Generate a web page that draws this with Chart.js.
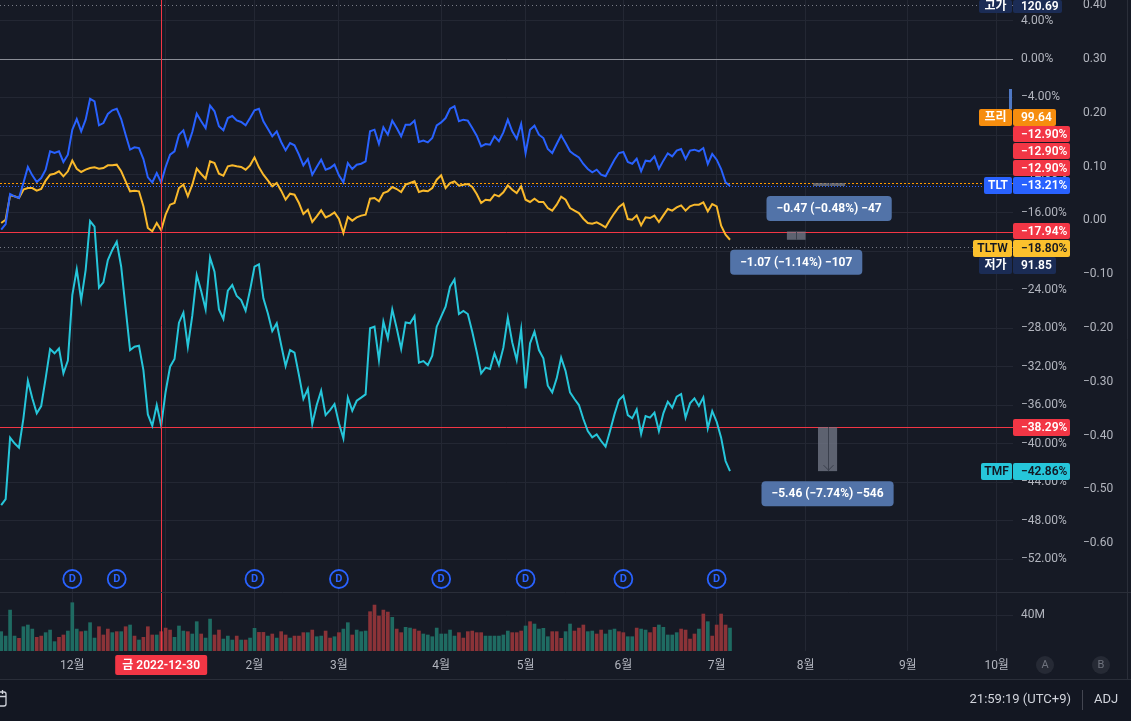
<!DOCTYPE html>
<html>
<head>
<meta charset="utf-8">
<script src="https://cdn.jsdelivr.net/npm/chart.js@4.4.1/dist/chart.umd.min.js"></script>
<style>
  html, body { margin: 0; padding: 0; background: #161a25; }
  #wrap { width: 1131px; height: 721px; position: relative; }
</style>
</head>
<body>
<div id="wrap"><canvas id="chart"></canvas></div>
<script>
// daily % change, one value per trading day (2022-11-08 .. 2023-07-07)
const tlt = [
  -17.75,-17.16,-14.04,-14.28,-14.46,-12.90,-11.23,-12.10,-12.79,-12.38,
  -11.51,-9.60,-9.78,-9.60,-10.71,-9.95,-7.35,-6.24,-7.52,-6.31,
  -4.13,-4.40,-6.90,-6.66,-5.72,-5.34,-5.17,-6.24,-7.87,-9.43,
  -9.19,-9.26,-10.40,-12.31,-12.83,-11.86,-12.83,-11.23,-9.95,-9.60,
  -7.87,-7.42,-8.98,-7.59,-5.69,-6.48,-7.18,-4.85,-5.44,-7.00,
  -7.42,-6.14,-5.93,-6.38,-6.55,-6.90,-6.14,-5.34,-5.17,-6.48,
  -7.25,-8.04,-7.52,-8.63,-9.50,-8.74,-8.98,-9.95,-11.06,-10.40,
  -12.03,-11.23,-10.47,-11.51,-11.34,-10.99,-12.10,-12.83,-10.82,-11.44,
  -10.99,-10.89,-10.64,-7.52,-7.35,-8.84,-7.11,-7.87,-6.41,-7.18,
  -8.04,-6.83,-6.83,-6.41,-8.63,-8.49,-8.67,-8.22,-6.90,-6.59,
  -6.14,-5.17,-4.92,-6.48,-6.31,-6.41,-7.18,-7.97,-9.08,-8.84,
  -8.91,-8.04,-8.56,-7.63,-6.31,-7.52,-8.29,-6.76,-9.78,-7.35,
  -6.93,-7.87,-8.22,-9.36,-9.78,-8.84,-7.94,-8.74,-9.60,-9.95,
  -10.23,-10.92,-11.44,-11.79,-11.51,-12.03,-12.20,-11.34,-10.47,-9.78,
  -9.67,-10.71,-10.89,-10.37,-11.68,-10.57,-10.64,-10.12,-11.41,-10.57,
  -9.81,-10.12,-9.53,-9.36,-10.40,-9.53,-9.43,-9.60,-9.26,-10.92,
  -9.88,-10.47,-11.44,-12.83,-13.21
];
const tltw = [
  -17.06,-16.71,-14.18,-14.28,-14.46,-13.59,-13.42,-13.42,-13.69,-13.52,
  -12.65,-12.03,-11.93,-11.68,-12.20,-11.68,-10.57,-11.41,-11.75,-11.51,
  -11.34,-11.27,-11.41,-11.34,-11.06,-11.06,-10.99,-11.68,-12.72,-13.76,
  -13.69,-13.76,-15.32,-17.58,-17.92,-17.06,-17.82,-16.19,-15.15,-14.98,
  -13.42,-13.07,-14.28,-13.07,-11.41,-11.96,-12.45,-10.64,-10.82,-11.93,
  -12.13,-11.16,-11.06,-11.16,-11.23,-11.51,-11.06,-10.23,-11.27,-12.03,
  -12.62,-13.24,-12.90,-13.69,-14.63,-14.01,-14.11,-14.98,-16.12,-15.67,
  -16.95,-16.36,-15.74,-16.47,-16.26,-15.95,-16.64,-18.10,-16.43,-16.81,
  -16.47,-16.29,-16.19,-14.53,-14.46,-14.80,-13.94,-13.76,-13.31,-13.52,
  -13.83,-13.07,-12.90,-12.72,-13.83,-13.69,-13.76,-13.42,-12.55,-12.10,
  -13.42,-12.90,-12.72,-13.17,-13.07,-13.00,-13.31,-14.04,-14.98,-14.63,
  -14.70,-14.11,-14.28,-13.87,-13.14,-13.59,-13.94,-13.24,-14.63,-14.87,
  -14.53,-14.87,-14.87,-15.50,-15.77,-15.15,-14.32,-14.63,-15.50,-15.77,
  -16.02,-16.61,-17.06,-17.13,-16.99,-17.23,-17.51,-16.71,-16.02,-15.39,
  -15.05,-16.64,-16.71,-16.26,-17.30,-16.47,-16.54,-16.29,-16.95,-16.26,
  -15.60,-15.77,-15.43,-15.22,-15.77,-15.32,-15.15,-15.15,-14.91,-15.84,
  -15.08,-15.32,-17.33,-18.27,-18.80
];
const tmf = [
  -46.39,-45.76,-39.38,-39.97,-40.42,-37.37,-33.46,-35.29,-36.85,-36.09,
  -33.21,-30.16,-30.61,-30.09,-32.69,-31.37,-24.55,-21.88,-25.07,-21.95,
  -16.85,-17.44,-23.78,-23.23,-20.91,-19.86,-19.00,-21.60,-25.93,-30.27,
  -29.92,-29.82,-32.35,-36.96,-38.14,-35.99,-38.14,-34.60,-32.00,-31.20,
  -27.42,-26.38,-29.92,-26.69,-22.47,-24.13,-26.04,-20.66,-22.12,-26.04,
  -27.04,-24.10,-23.51,-24.65,-25.07,-26.18,-24.03,-21.60,-21.36,-24.89,
  -26.45,-28.29,-27.49,-29.75,-31.93,-30.27,-30.54,-32.87,-35.36,-34.32,
  -37.96,-35.99,-34.49,-37.03,-36.51,-35.88,-37.89,-39.45,-35.22,-36.58,
  -35.54,-35.22,-34.88,-28.01,-27.84,-31.31,-27.32,-29.05,-26.04,-28.01,
  -30.16,-27.39,-27.49,-26.73,-31.58,-31.41,-31.83,-30.86,-27.84,-26.80,
  -25.76,-23.68,-22.92,-26.52,-26.21,-26.52,-28.36,-30.44,-32.69,-32.10,
  -32.24,-30.61,-31.83,-30.02,-26.90,-29.47,-31.31,-28.12,-34.25,-29.57,
  -28.36,-30.27,-31.13,-33.98,-34.67,-33.21,-31.06,-32.45,-34.67,-35.36,
  -35.99,-37.44,-38.69,-39.35,-39.04,-39.73,-40.32,-38.69,-36.96,-35.47,
  -35.02,-37.03,-37.37,-36.44,-39.00,-37.13,-37.30,-36.78,-38.69,-36.85,
  -35.64,-36.26,-35.12,-34.84,-37.30,-35.81,-35.29,-36.09,-35.19,-38.41,
  -36.61,-37.72,-39.38,-41.81,-42.86
];
// volume in millions, and bar direction (1 = up / teal, 0 = down / red)
const volume = [
  21.5,16.6,45.5,16.6,14.1,27.0,28.9,24.4,15.2,16.6,
  20.4,23.3,10.4,15.2,17.8,22.2,53.7,24.4,21.5,22.2,
  31.5,14.4,27.0,17.8,24.4,20.4,21.5,21.5,27.0,28.9,
  16.6,12.2,15.2,27.0,17.8,17.8,21.5,25.5,23.3,15.2,
  27.8,22.2,21.5,18.9,32.6,18.9,14.4,35.5,17.8,23.3,
  13.3,16.6,12.2,16.6,12.2,12.2,14.4,25.2,20.7,20.7,
  16.6,18.9,14.4,21.5,17.8,14.4,16.6,16.6,20.4,20.4,
  23.3,15.9,16.6,22.2,14.4,15.9,20.4,24.4,31.5,17.8,
  23.3,21.5,22.2,43.7,51.1,38.9,45.5,43.3,37.4,24.4,
  20.4,26.3,25.5,24.4,22.2,18.9,17.8,15.9,25.5,18.9,
  18.9,23.3,16.6,20.4,14.4,21.5,22.2,20.4,20.4,16.6,
  16.6,16.6,16.6,17.8,22.2,20.4,20.4,22.2,27.8,32.6,
  30.0,24.4,25.2,15.9,21.5,21.5,14.1,21.5,30.0,22.2,
  25.5,28.9,21.5,22.2,18.9,23.3,18.9,23.3,24.4,21.5,
  20.4,15.9,15.9,25.5,24.4,23.3,20.4,26.3,28.9,26.3,
  17.8,17.8,20.4,24.4,23.3,13.3,18.9,24.4,41.1,32.6,
  16.6,28.9,41.1,28.9,25.5
];
const volumeUp = [
  1,1,1,1,0,1,1,1,0,0, 1,1,1,0,0,1,1,1,0,1, 1,1,0,0,0,1,0,1,0,1,
  0,1,0,0,0,1,0,0,0,1, 1,1,0,1,1,0,1,1,0,0, 1,1,1,0,1,0,1,1,0,0,
  1,0,1,0,0,1,0,0,0,1, 0,1,1,0,0,1,0,1,1,0, 1,1,1,0,0,0,0,0,1,0,
  0,1,1,0,0,1,1,1,1,1, 1,1,1,0,0,0,0,0,0,1, 1,1,1,1,1,0,0,0,1,0,
  1,1,1,1,0,0,0,1,1,0, 0,0,1,1,0,0,1,1,1,0, 0,1,1,0,1,1,0,0,1,1,
  1,1,1,0,0,0,0,1,0,1, 0,0,0,0,1
];
// time axis: trading-day index of each month start
const monthTicks  = [16, 37, 57, 76, 99, 118, 140, 161, 181, 204, 224];
const monthLabels = ['12월','1월','2월','3월','4월','5월','6월','7월','8월','9월','10월'];
const dividendDays = [16, 26, 57, 76, 99, 118, 140, 161];
const pctTicks = [4,0,-4,-8,-12,-16,-20,-24,-28,-32,-36,-40,-44,-48,-52];
const rightTicks = [0.4,0.3,0.2,0.1,0,-0.1,-0.2,-0.3,-0.4,-0.5,-0.6];
const volumeTicks = [40];
const crosshairDay = 36;
const crosshairLabel = '금 2022-12-30';

const FONT = "Roboto, 'Noto Sans CJK KR', 'DejaVu Sans', sans-serif";
const minus = s => s.replace('-', '\u2212');
const fmtPct = v => minus(v.toFixed(2)) + '%';

function roundBox(ctx, x, y, w, h, r, fill) {
  ctx.fillStyle = fill;
  ctx.beginPath();
  ctx.roundRect(x, y, w, h, r);
  ctx.fill();
}
function badge(ctx, x, y, w, h, fill, text, color, align) {
  roundBox(ctx, x, y, w, h, 2, fill);
  ctx.fillStyle = color;
  ctx.textBaseline = 'middle';
  ctx.textAlign = align;
  ctx.fillText(text, align === 'center' ? x + w / 2 : x + 8, y + h / 2 + 0.5);
}
function hline(ctx, area, py, color, dash, x0) {
  ctx.save();
  ctx.strokeStyle = color;
  ctx.lineWidth = 1;
  ctx.setLineDash(dash);
  ctx.beginPath();
  ctx.moveTo(x0 || area.left, Math.round(py) + 0.5);
  ctx.lineTo(area.right, Math.round(py) + 0.5);
  ctx.stroke();
  ctx.restore();
}

const overlay = {
  id: 'overlay',
  beforeDraw(chart) {
    const { ctx, width, height } = chart;
    ctx.save();
    ctx.fillStyle = '#161a25';
    ctx.fillRect(0, 0, width, height);
    ctx.fillStyle = '#131722';
    ctx.fillRect(0, 680, width, height - 680);
    ctx.restore();
  },
  beforeDatasetsDraw(chart) {
    const { ctx, chartArea: a, scales: { y } } = chart;
    hline(ctx, a, y.getPixelForValue(5.62), '#787b86', [1, 3], 0);
    hline(ctx, a, y.getPixelForValue(0), '#8a8d96', []);
    hline(ctx, a, y.getPixelForValue(-12.90), '#ff9800', [2, 2]);
    hline(ctx, a, y.getPixelForValue(-13.21), '#2962ff', [1, 2]);
    hline(ctx, a, y.getPixelForValue(-17.94), '#f23645', []);
    hline(ctx, a, y.getPixelForValue(-19.52), '#787b86', [1, 3]);
    hline(ctx, a, y.getPixelForValue(-38.29), '#f23645', []);
  },
  afterDatasetsDraw(chart) {
    const { ctx, chartArea: a, scales: { x, y } } = chart;
    ctx.save();
    // crosshair
    const cx = Math.round(x.getPixelForValue(crosshairDay)) + 0.5;
    ctx.strokeStyle = '#f23645';
    ctx.lineWidth = 1;
    ctx.beginPath();
    ctx.moveTo(cx, a.top);
    ctx.lineTo(cx, a.bottom);
    ctx.stroke();

    // dividend letters
    ctx.font = 'bold 11px ' + FONT;
    ctx.fillStyle = '#2962ff';
    ctx.textAlign = 'center';
    ctx.textBaseline = 'middle';
    chart.getDatasetMeta(3).data.forEach(p => ctx.fillText('D', p.x, p.y + 0.5));

    // measure tool boxes
    const boxes = [
      { d0: 182.7, d1: 189.9, v0: -12.90, v1: -13.21, text: '\u22120.47 (\u22120.48%) \u221247' },
      { d0: 176.8, d1: 181.0, v0: -17.94, v1: -18.80, text: '\u22121.07 (\u22121.14%) \u2212107' },
      { d0: 183.8, d1: 188.1, v0: -38.29, v1: -42.86, text: '\u22125.46 (\u22127.74%) \u2212546', arrow: true }
    ];
    ctx.font = 'bold 12px ' + FONT;
    boxes.forEach(b => {
      const xa = x.getPixelForValue(b.d0), xb = x.getPixelForValue(b.d1);
      const ya = y.getPixelForValue(b.v0), yb = y.getPixelForValue(b.v1);
      ctx.fillStyle = 'rgba(120,126,142,0.72)';
      ctx.fillRect(xa, ya, xb - xa, yb - ya);
      const mx = Math.round((xa + xb) / 2) + 0.5;
      ctx.strokeStyle = '#3b404d';
      ctx.beginPath();
      ctx.moveTo(mx, ya);
      ctx.lineTo(mx, yb);
      if (b.arrow) {
        ctx.moveTo(mx - 5, yb - 6);
        ctx.lineTo(mx, yb - 1);
        ctx.lineTo(mx + 5, yb - 6);
      }
      ctx.stroke();
      const tw = ctx.measureText(b.text).width + 20;
      const top = yb + 10;
      roundBox(ctx, (xa + xb) / 2 - tw / 2, top, tw, 25, 4, '#5273a8');
      ctx.fillStyle = '#ffffff';
      ctx.textAlign = 'center';
      ctx.textBaseline = 'middle';
      ctx.fillText(b.text, (xa + xb) / 2, top + 13);
    });
    ctx.restore();
  },
  afterDraw(chart) {
    const { ctx, width, scales: { x } } = chart;
    ctx.save();
    // pane separator and borders
    ctx.strokeStyle = '#2a2e39';
    ctx.lineWidth = 1;
    ctx.beginPath();
    ctx.moveTo(0, 592.5); ctx.lineTo(width, 592.5);
    ctx.moveTo(0, 679.5); ctx.lineTo(width, 679.5);
    ctx.moveTo(1127.5, 0); ctx.lineTo(1127.5, 679);
    ctx.stroke();

    // price scale badges
    ctx.font = '600 12px ' + FONT;
    const navy = '#1b2c55', red = '#f23645', white = '#ffffff', dark = '#131722';
    badge(ctx, 979, 0, 33, 13, navy, '고가', white, 'center');
    badge(ctx, 1013, 0, 49, 13, navy, '120.69', white, 'left');
    badge(ctx, 979, 109, 33, 17, '#f68d0e', '프리', white, 'center');
    badge(ctx, 1013, 109, 43, 17, '#f68d0e', '99.64', white, 'left');
    badge(ctx, 1013, 126, 57, 16, red, fmtPct(-12.90), white, 'left');
    badge(ctx, 1013, 143, 57, 16, red, fmtPct(-12.90), white, 'left');
    badge(ctx, 1013, 160, 57, 16, red, fmtPct(-12.90), white, 'left');
    badge(ctx, 984, 177, 28, 17, '#2962ff', 'TLT', white, 'center');
    badge(ctx, 1013, 177, 57, 17, '#2962ff', fmtPct(-13.21), white, 'left');
    badge(ctx, 1013, 223, 57, 16, red, fmtPct(-17.94), white, 'left');
    badge(ctx, 973, 240, 39, 17, '#fbc02d', 'TLTW', dark, 'center');
    badge(ctx, 1013, 240, 57, 17, '#fbc02d', fmtPct(-18.80), dark, 'left');
    badge(ctx, 979, 257, 33, 17, navy, '저가', white, 'center');
    badge(ctx, 1013, 257, 43, 17, navy, '91.85', white, 'left');
    badge(ctx, 1013, 419, 57, 17, red, fmtPct(-38.29), white, 'left');
    badge(ctx, 981, 463, 31, 17, '#26c6da', 'TMF', dark, 'center');
    badge(ctx, 1013, 463, 57, 17, '#26c6da', fmtPct(-42.86), dark, 'left');
    ctx.fillStyle = '#4f78c4';
    ctx.fillRect(1009, 89, 3, 20);

    // crosshair date label
    const cx = x.getPixelForValue(crosshairDay);
    roundBox(ctx, cx - 46, 655, 92, 20, 2, red);
    ctx.fillStyle = white;
    ctx.textAlign = 'center';
    ctx.textBaseline = 'middle';
    ctx.fillText(crosshairLabel, cx, 665.5);

    // A / B buttons
    [[1045, 'A'], [1101, 'B']].forEach(([bx, t]) => {
      ctx.fillStyle = '#262a35';
      ctx.beginPath();
      ctx.arc(bx, 665, 9, 0, Math.PI * 2);
      ctx.fill();
      ctx.fillStyle = '#6f737e';
      ctx.font = '11px ' + FONT;
      ctx.fillText(t, bx, 665.5);
    });

    // bottom toolbar
    ctx.font = '13px ' + FONT;
    ctx.fillStyle = '#d1d4dc';
    ctx.textAlign = 'right';
    ctx.fillText('21:59:19 (UTC+9)', 1071, 700);
    ctx.textAlign = 'left';
    ctx.fillText('ADJ', 1094, 700);
    ctx.strokeStyle = '#434651';
    ctx.beginPath();
    ctx.moveTo(1082.5, 690); ctx.lineTo(1082.5, 710);
    ctx.stroke();
    ctx.strokeStyle = '#d1d4dc';
    ctx.lineWidth = 1.3;
    ctx.beginPath();
    ctx.roundRect(-7, 692, 13, 14, 2);
    ctx.moveTo(-7, 696.5); ctx.lineTo(6, 696.5);
    ctx.moveTo(2.5, 690); ctx.lineTo(2.5, 694);
    ctx.stroke();
    ctx.restore();
  }
};

const tickFont = { family: FONT, size: 12 };
const gridColor = '#232733';

new Chart(document.getElementById('chart'), {
  type: 'line',
  data: {
    datasets: [
      { label: 'TLT', data: tlt.map((v, i) => ({ x: i, y: v })), yAxisID: 'y',
        borderColor: '#2962ff', borderWidth: 2, pointRadius: 0, order: 2 },
      { label: 'TLTW', data: tltw.map((v, i) => ({ x: i, y: v })), yAxisID: 'y',
        borderColor: '#f9b92c', borderWidth: 2, pointRadius: 0, order: 3 },
      { label: 'TMF', data: tmf.map((v, i) => ({ x: i, y: v })), yAxisID: 'y',
        borderColor: '#26c6da', borderWidth: 2, pointRadius: 0, order: 1 },
      { type: 'scatter', label: 'D', data: dividendDays.map(d => ({ x: d, y: -54.08 })), yAxisID: 'y',
        pointStyle: 'circle', pointRadius: 9, pointBorderWidth: 1.8,
        pointBorderColor: '#2962ff', pointBackgroundColor: '#161a25', order: 0 },
      { type: 'bar', label: 'Volume', data: volume.map((v, i) => ({ x: i, y: v })), yAxisID: 'yv',
        backgroundColor: volumeUp.map(u => u ? '#1f6b62' : '#8b3338'), barThickness: 3, order: 9 }
    ]
  },
  options: {
    responsive: true,
    maintainAspectRatio: false,
    animation: false,
    events: [],
    devicePixelRatio: 1,
    layout: { autoPadding: false, padding: { left: 0, right: 0, top: 0, bottom: 42 } },
    plugins: { legend: { display: false }, tooltip: { enabled: false } },
    scales: {
      x: {
        type: 'linear', min: -0.27, max: 227.68, offset: false,
        grid: { color: gridColor, drawTicks: false, offset: false },
        border: { display: false },
        ticks: { color: '#b2b5be', font: tickFont, padding: 8, maxRotation: 0, autoSkip: false,
                 callback: (v, i) => monthLabels[i] },
        afterBuildTicks: s => { s.ticks = monthTicks.map(v => ({ value: v })); },
        afterFit: s => { s.height = 28; s.paddingLeft = 0; s.paddingRight = 0; }
      },
      y: {
        position: 'right', stack: 'price', stackWeight: 592,
        min: -55.43, max: 6.136,
        grid: { color: gridColor, drawTicks: false },
        border: { display: false },
        ticks: { color: '#b2b5be', font: tickFont, padding: 8, callback: v => fmtPct(v) },
        afterBuildTicks: s => { s.ticks = pctTicks.map(v => ({ value: v })); },
        afterFit: s => { s.width = 62; s.paddingTop = 0; s.paddingBottom = 0; }
      },
      yv: {
        position: 'right', stack: 'price', stackWeight: 59,
        min: 0, max: 65.6,
        grid: { color: gridColor, drawTicks: false },
        border: { display: false },
        ticks: { color: '#b2b5be', font: tickFont, padding: 8, callback: v => v + 'M' },
        afterBuildTicks: s => { s.ticks = volumeTicks.map(v => ({ value: v })); },
        afterFit: s => { s.width = 62; s.paddingTop = 0; s.paddingBottom = 0; }
      },
      y2: {
        position: 'right', weight: 1,
        min: -0.8004, max: 0.4097,
        grid: { display: false, drawTicks: false },
        border: { display: false },
        ticks: { color: '#b2b5be', font: tickFont, padding: 8, callback: v => minus(v.toFixed(2)) },
        afterBuildTicks: s => { s.ticks = rightTicks.map(v => ({ value: v })); },
        afterFit: s => { s.width = 56; s.paddingTop = 0; s.paddingBottom = 0; }
      }
    }
  },
  plugins: [overlay]
});
</script>
</body>
</html>
